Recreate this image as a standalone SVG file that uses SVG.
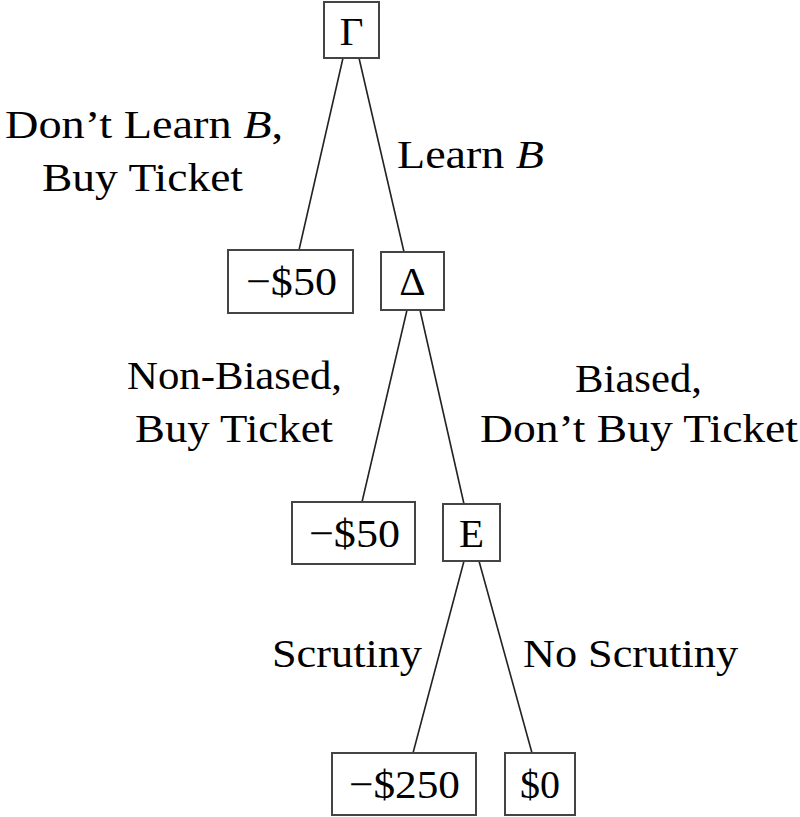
<svg xmlns="http://www.w3.org/2000/svg" width="800" height="817" viewBox="0 0 800 817">
<style>
  text { font-family: "Liberation Serif", "Times New Roman", serif; font-size: 41px; fill: #000; text-anchor: middle; }
  .box { fill: #fff; stroke: #444; stroke-width: 2; }
  .edge { stroke: #222; stroke-width: 1.6; fill: none; }
</style>
<rect width="800" height="817" fill="#fff"/>
<g id="connectors">
  <line class="edge" x1="343" y1="58" x2="299" y2="250"/>
  <line class="edge" x1="359" y1="58" x2="404" y2="252"/>
  <line class="edge" x1="407" y1="310" x2="362" y2="502"/>
  <line class="edge" x1="420" y1="310" x2="464" y2="504"/>
  <line class="edge" x1="464" y1="561" x2="413" y2="753"/>
  <line class="edge" x1="479" y1="561" x2="532" y2="753"/>
</g>
<g id="edge-labels">
  <text x="144" y="138" textLength="278" lengthAdjust="spacingAndGlyphs">Don’t Learn <tspan font-style="italic">B</tspan>,</text>
  <text x="142.5" y="191" textLength="201" lengthAdjust="spacingAndGlyphs">Buy Ticket</text>
  <text x="470.5" y="168" textLength="147" lengthAdjust="spacingAndGlyphs">Learn <tspan font-style="italic">B</tspan></text>
  <text x="234.5" y="389" textLength="215" lengthAdjust="spacingAndGlyphs">Non-Biased,</text>
  <text x="234" y="442" textLength="198" lengthAdjust="spacingAndGlyphs">Buy Ticket</text>
  <text x="638.5" y="392" textLength="127" lengthAdjust="spacingAndGlyphs">Biased,</text>
  <text x="639" y="442" textLength="318" lengthAdjust="spacingAndGlyphs">Don’t Buy Ticket</text>
  <text x="347" y="667" textLength="150" lengthAdjust="spacingAndGlyphs">Scrutiny</text>
  <text x="630.5" y="667" textLength="215" lengthAdjust="spacingAndGlyphs">No Scrutiny</text>
</g>
<g id="node-gamma">
  <rect class="box" x="324" y="2" width="55" height="56"/>
  <text x="351.5" y="45">Γ</text>
</g>
<g id="node-m50a">
  <rect class="box" x="228" y="250" width="125" height="63"/>
  <text x="291.5" y="295" textLength="91" lengthAdjust="spacingAndGlyphs">−$50</text>
</g>
<g id="node-delta">
  <rect class="box" x="381" y="252" width="63" height="58"/>
  <text x="412.5" y="295">Δ</text>
</g>
<g id="node-m50b">
  <rect class="box" x="292" y="502" width="123" height="62"/>
  <text x="354.5" y="547" textLength="91" lengthAdjust="spacingAndGlyphs">−$50</text>
</g>
<g id="node-e">
  <rect class="box" x="443" y="504" width="57" height="57"/>
  <text x="471.5" y="547">E</text>
</g>
<g id="node-m250">
  <rect class="box" x="332" y="753" width="144" height="62"/>
  <text x="404.5" y="798" textLength="111" lengthAdjust="spacingAndGlyphs">−$250</text>
</g>
<g id="node-zero">
  <rect class="box" x="505" y="753" width="70" height="62"/>
  <text x="540" y="798" textLength="40" lengthAdjust="spacingAndGlyphs">$0</text>
</g>
</svg>
